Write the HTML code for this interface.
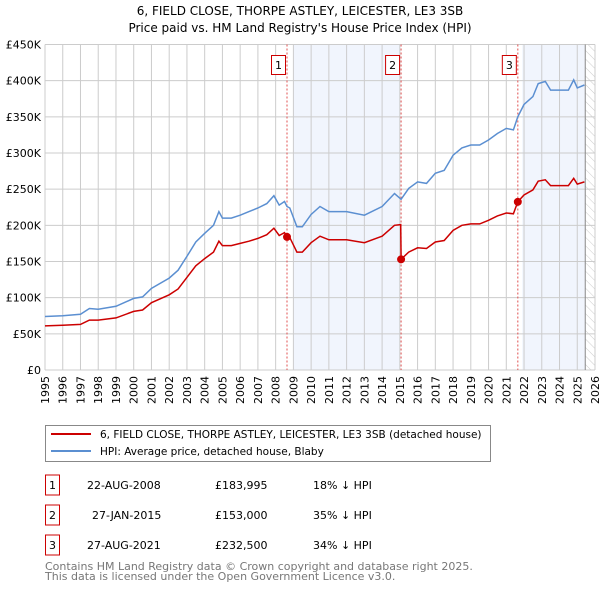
<!DOCTYPE html>
<html><head><meta charset="utf-8"><style>
body{margin:0;background:#fff;font-family:"Liberation Sans","DejaVu Sans",sans-serif;}
svg text{font-family:"DejaVu Sans","Liberation Sans",sans-serif;}
</style></head><body>
<svg id="c" width="600" height="590" viewBox="0 0 600 590" xmlns="http://www.w3.org/2000/svg">
<text x="300" y="15" text-anchor="middle" font-size="12">6, FIELD CLOSE, THORPE ASTLEY, LEICESTER, LE3 3SB</text>
<text x="300" y="32" text-anchor="middle" font-size="12">Price paid vs. HM Land Registry's House Price Index (HPI)</text>
<g id="plot"></g>
<g>
<rect x="45.5" y="425.5" width="445" height="36" fill="#fff" stroke="#888"/>
<line x1="51" y1="434" x2="91" y2="434" stroke="#cc0000" stroke-width="2"/>
<text x="100" y="438" font-size="10.5">6, FIELD CLOSE, THORPE ASTLEY, LEICESTER, LE3 3SB (detached house)</text>
<line x1="51" y1="451" x2="91" y2="451" stroke="#5b8fd1" stroke-width="2"/>
<text x="100" y="455" font-size="10.5">HPI: Average price, detached house, Blaby</text>
</g>
<g id="table" font-size="11"></g>
<text x="45" y="570" font-size="11" fill="#777">Contains HM Land Registry data © Crown copyright and database right 2025.</text>
<text x="45" y="580" font-size="11" fill="#777">This data is licensed under the Open Government Licence v3.0.</text>
</svg>
<script>
const yTicks=[0,50,100,150,200,250,300,350,400,450];
const yTickLabels=["£0","£50K","£100K","£150K","£200K","£250K","£300K","£350K","£400K","£450K"];
const years=[1995,1996,1997,1998,1999,2000,2001,2002,2003,2004,2005,2006,2007,2008,2009,2010,2011,2012,2013,2014,2015,2016,2017,2018,2019,2020,2021,2022,2023,2024,2025,2026];
const hpiX=[1995,1996,1997,1997.5,1998,1999,2000,2000.5,2001,2002,2002.5,2003,2003.5,2004,2004.5,2004.8,2005,2005.5,2006,2006.5,2007,2007.5,2007.9,2008.2,2008.5,2008.64,2008.8,2009.2,2009.5,2010,2010.5,2011,2012,2013,2014,2014.7,2015.07,2015.5,2016,2016.5,2017,2017.5,2018,2018.5,2019,2019.5,2020,2020.5,2021,2021.4,2021.65,2022,2022.5,2022.8,2023.2,2023.5,2024,2024.5,2024.8,2025,2025.4];
const hpiY=[74,75,77,85,84,88,99,101,113,127,138,157,177,189,200,219,210,210,214,219,224,230,241,228,233,226,224,198,198,215,226,219,219,214,226,244,236,251,260,258,272,276,297,307,311,311,318,327,334,332,350,367,378,396,399,387,387,387,401,390,394];
const priceX=[1995,1996,1997,1997.5,1998,1999,2000,2000.5,2001,2002,2002.5,2003,2003.5,2004,2004.5,2004.8,2005,2005.5,2006,2006.5,2007,2007.5,2007.9,2008.2,2008.5,2008.64,2008.8,2009.2,2009.5,2010,2010.5,2011,2012,2013,2014,2014.7,2015.05,2015.07,2015.5,2016,2016.5,2017,2017.5,2018,2018.5,2019,2019.5,2020,2020.5,2021,2021.4,2021.65,2022,2022.5,2022.8,2023.2,2023.5,2024,2024.5,2024.8,2025,2025.4];
const priceY=[61,62,63,69,69,72,81,83,93,104,112,128,144,154,163,178,172,172,175,178,182,187,196,186,190,184,183,163,163,176,185,180,180,176,185,200,201,153,163,169,168,177,179,193,200,202,202,207,213,217,216,232.5,242,249,261,263,255,255,255,265,257,260];
const saleX=[2008.64,2015.07,2021.65];
const saleY=[183.995,153,232.5];
const saleLabels=["1","2","3"];
const saleDates=["22-AUG-2008","27-JAN-2015","27-AUG-2021"];
const salePrices=["£183,995","£153,000","£232,500"];
const saleHpi=["18% ↓ HPI","35% ↓ HPI","34% ↓ HPI"];

const NS="http://www.w3.org/2000/svg";
const L=45,R=595,T=44.5,B=370;
const xs=v=>L+(v-1995)/(2026-1995)*(R-L);
const ys=v=>B-v/450*(B-T);
function mk(tag,attrs,parent){const e=document.createElementNS(NS,tag);for(const k in attrs)e.setAttribute(k,attrs[k]);parent.appendChild(e);return e;}
const g=document.getElementById('plot');
let s1=mk('rect',{x:xs(2009.0),y:T,width:xs(2015.0)-xs(2009.0),height:B-T,fill:'#eef3fc',opacity:0.8},g);


let s2=mk('rect',{x:xs(2021.9),y:T,width:xs(2025.45)-xs(2021.9),height:B-T,fill:'#eef3fc',opacity:0.8},g);


const defs=mk('defs',{},g);
const pat=mk('pattern',{id:'h',width:6,height:6,patternUnits:'userSpaceOnUse',patternTransform:'rotate(-45)'},defs);
mk('line',{x1:0,y1:0,x2:0,y2:6,stroke:'#ccc','stroke-width':1},pat);
let hz=mk('rect',{x:xs(2025.45),y:T,width:R-xs(2025.45),height:B-T,fill:'url(#h)'},g);


years.forEach(y=>{let l=mk('line',{x1:xs(y),y1:T,x2:xs(y),y2:B,stroke:'#ccc','stroke-width':1},g);


let t=mk('text',{x:0,y:0,'font-size':11,'text-anchor':'end',transform:`translate(${xs(y)+4},${B+6}) rotate(-90)`},g);t.textContent=y;

});
yTicks.forEach((v,i)=>{let l=mk('line',{x1:L,y1:ys(v),x2:R,y2:ys(v),stroke:'#ccc','stroke-width':1},g);


let t=mk('text',{x:L-4,y:ys(v)+4,'font-size':11,'text-anchor':'end'},g);t.textContent=yTickLabels[i];

});
let nowl=mk('line',{x1:xs(2025.45),y1:T,x2:xs(2025.45),y2:B,stroke:'#888','stroke-width':1},g);


saleX.forEach((x,i)=>{let l=mk('line',{x1:xs(x),y1:T,x2:xs(x),y2:B,stroke:'#e05050','stroke-width':1,'stroke-dasharray':'2,2'},g);


let bx=mk('rect',{x:xs(x)-15.5,y:55.5,width:14,height:19,fill:'#fff',stroke:'#cc0000'},g);


let t=mk('text',{x:xs(x)-8.5,y:69,'font-size':11,'text-anchor':'middle'},g);t.textContent=saleLabels[i];

});
const pts=(X,Y)=>X.map((x,i)=>xs(x).toFixed(1)+','+ys(Y[i]).toFixed(1)).join(' ');
let hl=mk('polyline',{points:pts(hpiX,hpiY),fill:'none',stroke:'#5b8fd1','stroke-width':1.5},g);


let pl=mk('polyline',{points:pts(priceX,priceY),fill:'none',stroke:'#cc0000','stroke-width':1.5},g);


saleX.forEach((x,i)=>{let c=mk('circle',{cx:xs(x),cy:ys(saleY[i]),r:4,fill:'#cc0000'},g);

});
const tb=document.getElementById('table');
[485,515,545].forEach((cy,i)=>{
let bx=mk('rect',{x:45.5,y:cy-10,width:14,height:20,fill:'#fff',stroke:'#cc0000'},tb);


let t=mk('text',{x:52.5,y:cy+4,'text-anchor':'middle'},tb);t.textContent=saleLabels[i];


let d=mk('text',{x:i==1?92:87,y:cy+4},tb);d.textContent=saleDates[i];


let p=mk('text',{x:215,y:cy+4},tb);p.textContent=salePrices[i];


let h=mk('text',{x:313,y:cy+4},tb);h.textContent=saleHpi[i];


});
</script>
</body></html>
